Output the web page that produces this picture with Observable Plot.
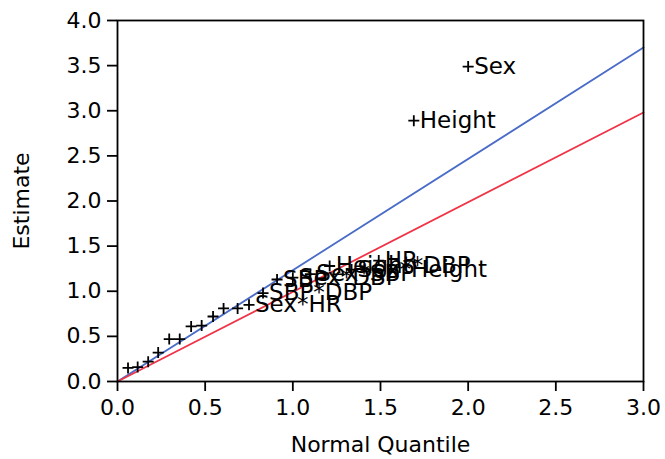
<!DOCTYPE html>
<html>
<head>
<meta charset="utf-8">
<script src="https://cdn.jsdelivr.net/npm/d3@7"></script>
<script src="https://cdn.jsdelivr.net/npm/@observablehq/plot@0.6"></script>
<style>
  html, body { margin: 0; padding: 0; background: #fff; }
  #chart { width: 665px; height: 459px; }
</style>
</head>
<body>
<div id="chart"></div>
<script>
// Unlabeled effects (half-normal quantile, |estimate|)
const smallQuantile = [0.06, 0.115, 0.175, 0.232, 0.295, 0.355, 0.42, 0.48, 0.545, 0.605, 0.685];
const smallEstimate = [0.15, 0.16, 0.22, 0.32, 0.47, 0.47, 0.61, 0.62, 0.72, 0.81, 0.81];

// Labeled effects
const termNames    = ["Sex*HR", "SBP*DBP", "SBP", "Sex*DBP", "Sex*SBP", "Height*DBP", "Sex*Height", "HR", "Height", "Sex"];
const termQuantile = [0.75, 0.83, 0.91, 1.00, 1.10, 1.21, 1.335, 1.49, 1.69, 2.0];
const termEstimate = [0.85, 0.98, 1.13, 1.15, 1.19, 1.28, 1.24, 1.34, 2.89, 3.49];

// Reference lines (through origin)
const lineX     = [0, 3.0];
const blueLineY = [0, 3.70];
const redLineY  = [0, 2.98];

const xTicks = [0, 0.5, 1.0, 1.5, 2.0, 2.5, 3.0];
const yTicks = [0, 0.5, 1.0, 1.5, 2.0, 2.5, 3.0, 3.5, 4.0];

const smallPts = smallQuantile.map((q, i) => ({q, e: smallEstimate[i]}));
const termPts = termNames.map((n, i) => ({name: n, q: termQuantile[i], e: termEstimate[i]}));
const blueLine = lineX.map((x, i) => ({x, y: blueLineY[i]}));
const redLine = lineX.map((x, i) => ({x, y: redLineY[i]}));

// thin cross symbol
const cross = {
  draw(ctx, size) {
    const r = Math.sqrt(size / Math.PI);
    ctx.moveTo(-r, 0); ctx.lineTo(r, 0);
    ctx.moveTo(0, -r); ctx.lineTo(0, r);
  }
};

const allPts = smallPts.concat(termPts);

const chart = Plot.plot({
  width: 665,
  height: 459,
  marginLeft: 117,
  marginRight: 22,
  marginTop: 20,
  marginBottom: 78,
  style: {fontFamily: "'DejaVu Sans', sans-serif", fontSize: "22px", color: "black", background: "white"},
  x: {domain: [0, 3]},
  y: {domain: [0, 4]},
  marks: [
    Plot.line(blueLine, {x: "x", y: "y", stroke: "#4a6cc8", strokeWidth: 1.8}),
    Plot.line(redLine, {x: "x", y: "y", stroke: "#f03347", strokeWidth: 1.8}),
    Plot.dot(allPts, {x: "q", y: "e", symbol: cross, r: 5.5, fill: "none", stroke: "black", strokeWidth: 1.8}),
    Plot.text(termPts, {x: "q", y: "e", text: "name", textAnchor: "start", dx: 6, fontSize: 23, fill: "black"}),
    Plot.frame({stroke: "black", strokeWidth: 1.8}),
    Plot.axisX({ticks: xTicks, tickFormat: d3.format(".1f"), tickSize: 10, tickPadding: 8, strokeWidth: 1.8,
      label: "Normal Quantile", labelAnchor: "center", labelArrow: "none", labelOffset: 70}),
    Plot.axisY({ticks: yTicks, tickFormat: d3.format(".1f"), tickSize: 10, tickPadding: 6, strokeWidth: 1.8,
      label: "Estimate", labelAnchor: "center", labelArrow: "none", labelOffset: 104})
  ]
});

document.getElementById("chart").appendChild(chart);
</script>
</body>
</html>
